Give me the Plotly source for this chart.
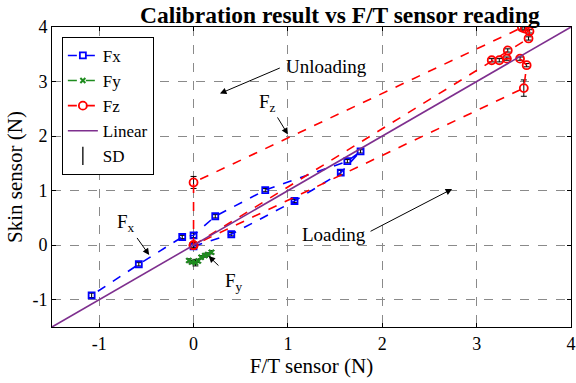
import plotly.graph_objects as go

# ---- data ----
fx_x = [0.00, 0.40, 1.07, 1.56, 1.77, 1.63, 0.76, 0.23, 0.00, -0.12, -0.58, -1.08]
fx_y = [-0.02, 0.20, 0.81, 1.33, 1.72, 1.54, 1.01, 0.53, 0.18, 0.15, -0.35, -0.92]
fx_sd = [0.04, 0.03, 0.03, 0.04, 0.03, 0.03, 0.03, 0.03, 0.04, 0.03, 0.03, 0.04]

fy_x = [-0.05, -0.02, 0.02, 0.05, 0.08, 0.12, 0.15, 0.19]
fy_y = [-0.28, -0.31, -0.32, -0.29, -0.22, -0.19, -0.17, -0.13]
fy_sd = [0.03, 0.03, 0.06, 0.03, 0.03, 0.03, 0.03, 0.03]

fz_x = [0.00, 3.33, 3.55, 3.56, 3.51, 3.48, 0.00, 0.00, 3.50, 3.53, 3.46, 3.32, 3.24, 3.16]
fz_y = [0.00, 3.57, 3.79, 3.92, 3.97, 3.99, 1.15, 0.00, 2.88, 3.30, 3.42, 3.42, 3.39, 3.39]
fz_sd = [0.05, 0.03, 0.03, 0.03, 0.03, 0.03, 0.11, 0.05, 0.15, 0.03, 0.03, 0.03, 0.03, 0.03]

lin_x = [-1.5, 4.0]
lin_y = [-1.5, 4.0]

ticks = [-1, 0, 1, 2, 3, 4]
tick_text = ["-1", "0", "1", "2", "3", "4"]

FONT = "Liberation Serif"

fig = go.Figure()

fig.add_trace(go.Scatter(
    x=fx_x, y=fx_y, mode="lines+markers", name="Fx",
    line=dict(color="#0000FF", width=1.6, dash="dash"),
    marker=dict(symbol="square-open", size=6, color="#0000FF", line=dict(width=1.8)),
    error_y=dict(type="data", array=fx_sd, color="black", thickness=1, width=3),
))
fig.add_trace(go.Scatter(
    x=fy_x, y=fy_y, mode="lines+markers", name="Fy",
    line=dict(color="#1E8C1E", width=1.6, dash="dash"),
    marker=dict(symbol="x-thin-open", size=5, color="#1E8C1E", line=dict(width=2, color="#1E8C1E")),
    error_y=dict(type="data", array=fy_sd, color="black", thickness=1, width=3),
))
fig.add_trace(go.Scatter(
    x=fz_x, y=fz_y, mode="lines+markers", name="Fz",
    line=dict(color="#FF0000", width=1.6, dash="dash"),
    marker=dict(symbol="circle-open", size=8, color="#FF0000", line=dict(width=1.8)),
    error_y=dict(type="data", array=fz_sd, color="black", thickness=1, width=3),
))
fig.add_trace(go.Scatter(
    x=lin_x, y=lin_y, mode="lines", name="Linear",
    line=dict(color="#7E2F8E", width=1.6),
))
fig.add_trace(go.Scatter(
    x=[None], y=[None], mode="markers", name="SD",
    marker=dict(symbol="line-ns-open", size=13, color="black", line=dict(width=1.3, color="black")),
))

def label(text, x, y, xanchor="center"):
    fig.add_annotation(x=x, y=y, xref="x", yref="y", text=text, showarrow=False,
                       xanchor=xanchor, font=dict(family=FONT, size=19, color="black"))

# arrows (without text)
for hx, hy, tx, ty in [(0.28, 2.78, 0.93, 3.26), (1.00, 2.03, 0.88, 2.37),
                       (-0.47, -0.18, -0.61, 0.16), (0.16, -0.20, 0.28, -0.40),
                       (2.74, 1.03, 1.86, 0.24)]:
    fig.add_annotation(x=hx, y=hy, ax=tx, ay=ty, xref="x", yref="y", axref="x", ayref="y",
                       text="", showarrow=True, arrowhead=2, arrowsize=1.3, arrowwidth=1,
                       arrowcolor="black")

label("Unloading", 1.41, 3.28)
label("F<sub>z</sub>", 0.78, 2.60)
label("F<sub>x</sub>", -0.72, 0.40)
label("F<sub>y</sub>", 0.43, -0.68)
label("Loading", 1.49, 0.20)

axis_common = dict(
    tickvals=ticks, ticktext=tick_text, automargin=False,
    showgrid=True, gridcolor="#8a8a8a", griddash="dash", gridwidth=1,
    zeroline=False, showline=True, linecolor="black", linewidth=1, mirror="ticks",
    ticks="inside", ticklen=4, tickcolor="black",
    tickfont=dict(family=FONT, size=18, color="black"),
)

fig.update_layout(
    template="none",
    width=576, height=383,
    margin=dict(l=52, r=5, t=27, b=56),
    paper_bgcolor="white", plot_bgcolor="white",
    font=dict(family=FONT, size=18, color="black"),
    title=dict(text="<b>Calibration result vs F/T sensor reading</b>",
               x=0.59, xanchor="center", y=0.984, yanchor="top",
               font=dict(family=FONT, size=23.5, color="black")),
    xaxis=dict(range=[-1.5, 4], title=dict(text="F/T sensor (N)", standoff=2,
               font=dict(family=FONT, size=21, color="black")), **axis_common),
    yaxis=dict(range=[-1.5, 4], title=dict(text="Skin sensor (N)", standoff=4,
               font=dict(family=FONT, size=21, color="black")), **axis_common),
    legend=dict(x=0.019, y=0.967, xanchor="left", yanchor="top",
                bgcolor="white", bordercolor="black", borderwidth=1,
                font=dict(family=FONT, size=17, color="black"),
                tracegroupgap=0, itemwidth=30),
    showlegend=True,
)

fig.write_html("out.html", config={"displayModeBar": False},
               post_script="document.body.style.margin='0';")
